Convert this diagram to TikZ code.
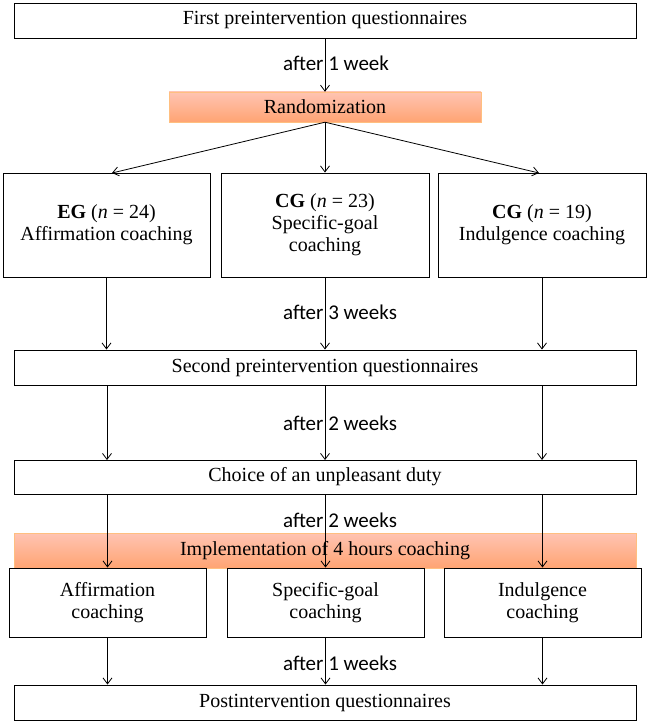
\documentclass[tikz,border=0pt]{standalone}
\usepackage{fontspec}
\setmainfont{Liberation Serif}
\newfontfamily\lab{Carlito}
\usetikzlibrary{arrows.meta}
\begin{document}
\begin{tikzpicture}[x=1pt,y=-1pt,
  box/.style={draw,line width=0.9pt,align=center,inner sep=0pt,font=\fontsize{20}{22}\selectfont},
  band/.style={top color=orange!45!red!30!white,bottom color=orange!70!red!55!white,draw=orange!50,inner sep=0pt,font=\fontsize{20}{22}\selectfont},
  arr/.style={-{Straight Barb[length=6pt,width=9pt]},line width=0.8pt},
  lab/.style={font=\lab\fontsize{21}{24}\selectfont,inner sep=1pt}]
\useasboundingbox (0,0) rectangle (649,722);
\node[box,minimum width=622,minimum height=35] (t) at (325,20.5) {First preintervention questionnaires};
\node[band,minimum width=312,minimum height=30] (r) at (325,107) {Randomization};
\node[box,minimum width=207,minimum height=104] (a) at (106.5,225) {\textbf{EG} (\textit{n} = 24)\\Affirmation coaching};
\node[box,minimum width=208,minimum height=104] (b) at (325,225) {\textbf{CG} (\textit{n} = 23)\\Specific-goal\\coaching};
\node[box,minimum width=208,minimum height=104] (c) at (542,225) {\textbf{CG} (\textit{n} = 19)\\Indulgence coaching};
\node[box,minimum width=622,minimum height=35] (s) at (325,367.5) {Second preintervention questionnaires};
\node[box,minimum width=622,minimum height=34] (ch) at (325,477) {Choice of an unpleasant duty};
\node[band,minimum width=622,minimum height=35] (im) at (325,550.5) {Implementation of 4 hours coaching};
\node[box,minimum width=197,minimum height=69] (a2) at (107.5,602.5) {Affirmation\\coaching};
\node[box,minimum width=197,minimum height=69] (b2) at (325.5,602.5) {Specific-goal\\coaching};
\node[box,minimum width=197,minimum height=69] (c2) at (542.5,602.5) {Indulgence\\coaching};
\node[box,minimum width=622,minimum height=35] (p) at (325,702.5) {Postintervention questionnaires};
% arrows
\draw[arr] (t.south) -- (r.north);
\node[lab] at (336,63) {after 1 week};
\draw[arr] (r.south) -- (112,173);
\draw[arr] (r.south) -- (b.north);
\draw[arr] (r.south) -- (539,173);
\draw[arr] (a.south) -- (a.south |- s.north);
\draw[arr] (b.south) -- (b.south |- s.north);
\draw[arr] (c.south) -- (c.south |- s.north);
\node[lab] at (340,312) {after 3 weeks};
\draw[arr] (107,385) -- (107,460);
\draw[arr] (325,385) -- (325,460);
\draw[arr] (542,385) -- (542,460);
\node[lab] at (340,423) {after 2 weeks};
\draw[arr] (a2.north |- ch.south) -- (a2.north);
\draw[arr] (b2.north |- ch.south) -- (b2.north);
\draw[arr] (c2.north |- ch.south) -- (c2.north);
\node[lab] at (340,520) {after 2 weeks};
\draw[arr] (a2.south) -- (a2.south |- p.north);
\draw[arr] (b2.south) -- (b2.south |- p.north);
\draw[arr] (c2.south) -- (c2.south |- p.north);
\node[lab] at (340,663) {after 1 weeks};
\end{tikzpicture}
\end{document}
